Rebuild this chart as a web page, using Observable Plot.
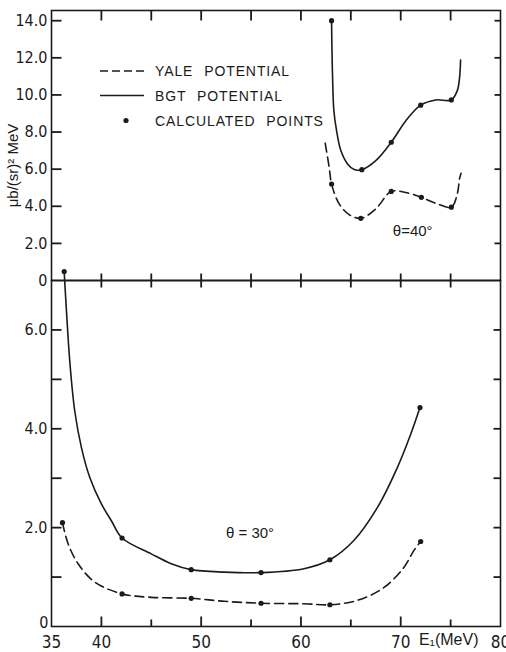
<!DOCTYPE html>
<html><head><meta charset="utf-8">
<script src="https://cdn.jsdelivr.net/npm/d3@7"></script>
<script src="https://cdn.jsdelivr.net/npm/@observablehq/plot@0.6"></script>
<style>
html,body{margin:0;padding:0;background:#fff;}
#wrap{position:relative;width:506px;height:652px;overflow:hidden;background:#fff;}
#wrap svg{overflow:visible;display:block;}
#wrap svg.overlay{position:absolute;left:0;top:0;}
</style></head><body><div id="wrap"></div>
<script>
// ---------- data ----------
// θ = 40° panel (upper)
const bgt40CurveE = [63.07, 63.1, 63.17, 63.3, 63.57, 64.0, 64.67, 65.33, 66.1, 67.5, 69.05, 70.5, 72.0, 73.5, 75.07, 75.67, 75.9, 76.0];
const bgt40CurveV = [14.0, 12.75, 10.95, 9.15, 8.08, 7.0, 6.28, 5.98, 5.97, 6.46, 7.45, 8.6, 9.45, 9.73, 9.73, 10.23, 10.95, 11.88];
const yale40CurveE = [62.43, 62.83, 63.07, 63.83, 64.83, 66.0, 67.5, 69.05, 70.5, 72.07, 73.67, 75.07, 75.67, 75.9, 76.05];
const yale40CurveV = [7.4, 6.1, 5.2, 4.13, 3.55, 3.35, 3.86, 4.8, 4.74, 4.48, 4.13, 3.95, 4.67, 5.5, 5.78];
const bgt40PointsE = [63.07, 66.1, 69.05, 72.0, 75.07];
const bgt40PointsV = [14.0, 5.97, 7.45, 9.45, 9.73];
const yale40PointsE = [63.07, 66.0, 69.05, 72.07, 75.07];
const yale40PointsV = [5.2, 3.35, 4.8, 4.48, 3.95];

// θ = 30° panel (lower)
const bgt30CurveE = [36.27, 36.5, 36.83, 37.33, 38.0, 38.83, 40.0, 41.0, 42.07, 45.0, 47.0, 49.0, 52.3, 56.0, 60.3, 62.9, 65.3, 67.67, 69.67, 71.0, 71.93];
const bgt30CurveV = [7.18, 6.38, 5.37, 4.36, 3.62, 3.02, 2.48, 2.14, 1.79, 1.47, 1.27, 1.15, 1.10, 1.09, 1.17, 1.35, 1.74, 2.41, 3.22, 3.89, 4.43];
const yale30CurveE = [36.1, 36.67, 37.67, 39.33, 42.07, 45.0, 49.0, 52.3, 56.0, 60.3, 62.9, 65.67, 68.33, 70.33, 71.33, 72.0];
const yale30CurveV = [2.10, 1.67, 1.27, 0.90, 0.66, 0.59, 0.57, 0.51, 0.47, 0.46, 0.44, 0.53, 0.79, 1.2, 1.54, 1.72];
const bgt30PointsE = [36.27, 42.07, 49.0, 56.0, 62.9, 71.93];
const bgt30PointsV = [7.18, 1.79, 1.15, 1.09, 1.35, 4.43];
const yale30PointsE = [36.1, 42.07, 49.0, 56.0, 62.9, 72.0];
const yale30PointsV = [2.10, 0.66, 0.57, 0.47, 0.44, 1.72];

// axes / ticks / labels
const xDomain = [35, 80];
const xLabelTicks = [35, 40, 50, 60, 70, 80];
const xMajorTicks = [40, 50, 60, 70];
const xMinorTicks = [45, 55, 65, 75];
const xAllTicks = [40, 45, 50, 55, 60, 65, 70, 75];
const topYDomain = [0, 14.55];
const topYLabelTicks = [0, 2, 4, 6, 8, 10, 12, 14];
const topYTicks = [2, 4, 6, 8, 10, 12, 14];
const botYDomain = [0, 7];
const botYLabelTicks = [2, 4, 6];
const botYZeroTick = [0];
const botYTicks = [1, 2, 3, 4, 5, 6];

const yLabel = "μb/(sr)² MeV";
const xLabel = "E₁(MeV)";
const theta40 = [{E: 71.2, v: 2.64, t: "θ=40°"}];
const theta30 = [{E: 54.9, v: 1.88, t: "θ = 30°"}];
const legendItems = [
  {label: "YALE POTENTIAL", kind: "dash"},
  {label: "BGT POTENTIAL", kind: "solid"},
  {label: "CALCULATED POINTS", kind: "dot"}
];

// ---------- build ----------
const zip = (E, V) => E.map((e, i) => ({E: e, v: V[i]}));
const INK = "#1b1b1b";
const numFont = "'Liberation Sans Narrow','DejaVu Sans Condensed','Arial Narrow',sans-serif";
const txtFont = "'Liberation Sans',Arial,sans-serif";
const fmtY = d => d === 0 ? "0" : d.toFixed(1);
const DASH = "9,5";
const W = 506, ML = 51, MR = 6;
const FW = W - ML - MR;
const TOP_H = 280, TOP_MT = 10, TOP_MB = 0;
const BOT_H = 372, BOT_MT = 0, BOT_MB = 26;
const TOP_FH = TOP_H - TOP_MT - TOP_MB;
const BOT_FH = BOT_H - BOT_MT - BOT_MB;
const TW = 1.8;

// pixel lengths converted to data units (so ticks are drawn as links through the scales)
const pxX = (xDomain[1] - xDomain[0]) / FW;
const pxT = (topYDomain[1] - topYDomain[0]) / TOP_FH;
const pxB = (botYDomain[1] - botYDomain[0]) / BOT_FH;
const vLinks = (vals, yFrom, yTo) => vals.map(v => ({x1: v, x2: v, y1: yFrom, y2: yTo}));
const hLinks = (vals, xFrom, xTo) => vals.map(v => ({x1: xFrom, x2: xTo, y1: v, y2: v}));
const tickLinks = (rows) => Plot.link(rows, {x1: "x1", x2: "x2", y1: "y1", y2: "y2", stroke: INK, strokeWidth: TW});

const topTickRows = [
  ...vLinks(xAllTicks, topYDomain[1], topYDomain[1] - 10 * pxT),
  ...vLinks(xAllTicks, topYDomain[0], topYDomain[0] + 7 * pxT),
  ...hLinks(topYTicks, xDomain[0], xDomain[0] + 10 * pxX),
  ...hLinks(topYTicks, xDomain[1] - 6 * pxX, xDomain[1])
];
const botTickRows = [
  ...vLinks(xAllTicks, botYDomain[1], botYDomain[1] - 7 * pxB),
  ...vLinks(xMajorTicks, botYDomain[0], botYDomain[0] + 10 * pxB),
  ...vLinks(xMinorTicks, botYDomain[0], botYDomain[0] + 7 * pxB),
  ...hLinks(botYTicks, xDomain[0], xDomain[0] + 10 * pxX),
  ...hLinks(botYTicks, xDomain[1] - 7 * pxX, xDomain[1])
];

const common = {
  width: W, marginLeft: ML, marginRight: MR,
  style: {overflow: "visible", fontFamily: numFont, fontSize: "16px", color: INK}
};

const topPlot = Plot.plot({
  ...common,
  height: TOP_H, marginTop: TOP_MT, marginBottom: TOP_MB,
  x: {domain: xDomain, axis: null},
  y: {domain: topYDomain, label: null},
  marks: [
    Plot.frame({stroke: INK, strokeWidth: 1.6}),
    Plot.axisY({ticks: topYLabelTicks, anchor: "left", tickSize: 0, tickPadding: 4, tickFormat: fmtY, label: null}),
    tickLinks(topTickRows),
    Plot.line(zip(bgt40CurveE, bgt40CurveV), {x: "E", y: "v", curve: "catmull-rom", stroke: INK, strokeWidth: 1.6}),
    Plot.line(zip(yale40CurveE, yale40CurveV), {x: "E", y: "v", curve: "catmull-rom", stroke: INK, strokeWidth: 1.6, strokeDasharray: DASH}),
    Plot.dot(zip(bgt40PointsE, bgt40PointsV), {x: "E", y: "v", r: 2.6, fill: INK, stroke: "none"}),
    Plot.dot(zip(yale40PointsE, yale40PointsV), {x: "E", y: "v", r: 2.6, fill: INK, stroke: "none"}),
    Plot.text(theta40, {x: "E", y: "v", text: "t", fontFamily: txtFont, fontSize: 15, fill: INK}),
    Plot.text([yLabel], {frameAnchor: "left", textAnchor: "middle", dx: -38, dy: 20, rotate: -90, fontFamily: txtFont, fontSize: 15, fill: INK, letterSpacing: "1.1px"})
  ]
});

const botPlot = Plot.plot({
  ...common,
  height: BOT_H, marginTop: BOT_MT, marginBottom: BOT_MB,
  x: {domain: xDomain, label: null},
  y: {domain: botYDomain, label: null},
  marks: [
    Plot.frame({stroke: INK, strokeWidth: 1.6}),
    Plot.axisY({ticks: botYLabelTicks, anchor: "left", tickSize: 0, tickPadding: 4, tickFormat: fmtY, label: null}),
    Plot.axisY({ticks: botYZeroTick, anchor: "left", tickSize: 0, tickPadding: 3, tickFormat: fmtY, dy: -4, label: null}),
    tickLinks(botTickRows),
    Plot.axisX({ticks: xLabelTicks, anchor: "bottom", tickSize: 0, tickPadding: 9, fontSize: 17, label: null}),
    Plot.line(zip(bgt30CurveE, bgt30CurveV), {x: "E", y: "v", curve: "catmull-rom", stroke: INK, strokeWidth: 1.6}),
    Plot.line(zip(yale30CurveE, yale30CurveV), {x: "E", y: "v", curve: "catmull-rom", stroke: INK, strokeWidth: 1.6, strokeDasharray: DASH}),
    Plot.dot(zip(bgt30PointsE, bgt30PointsV), {x: "E", y: "v", r: 2.6, fill: INK, stroke: "none"}),
    Plot.dot(zip(yale30PointsE, yale30PointsV), {x: "E", y: "v", r: 2.6, fill: INK, stroke: "none"}),
    Plot.text(theta30, {x: "E", y: "v", text: "t", fontFamily: txtFont, fontSize: 15, fill: INK}),
    Plot.text([xLabel], {frameAnchor: "bottom-right", dx: -22, dy: 18, textAnchor: "end", fontFamily: txtFont, fontSize: 16, fill: INK})
  ]
});

const wrap = document.getElementById("wrap");
wrap.appendChild(topPlot);
wrap.appendChild(botPlot);

// overlay: legend inside the upper panel
const ov = d3.create("svg").attr("class", "overlay").attr("width", W).attr("height", 140);
const rowY = [71, 95.5, 120.5];
legendItems.forEach((it, i) => {
  const y = rowY[i];
  if (it.kind === "dot") {
    ov.append("circle").attr("cx", 126).attr("cy", y).attr("r", 2.6).attr("fill", INK);
  } else {
    ov.append("line").attr("x1", 100).attr("x2", 144).attr("y1", y).attr("y2", y)
      .attr("stroke", INK).attr("stroke-width", 1.5)
      .attr("stroke-dasharray", it.kind === "dash" ? "8,4" : null);
  }
  ov.append("text").attr("x", 155).attr("y", y + 5)
    .attr("font-family", txtFont).attr("font-size", 14)
    .attr("letter-spacing", "0.9px").attr("word-spacing", "6px")
    .attr("fill", INK).text(it.label);
});
wrap.appendChild(ov.node());
</script>
</body></html>
